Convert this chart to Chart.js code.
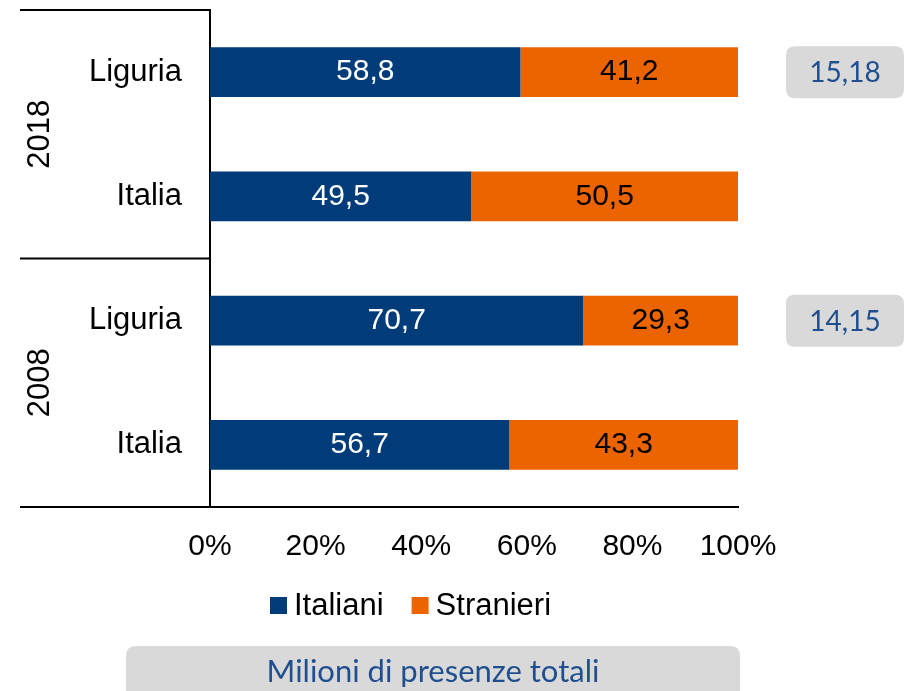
<!DOCTYPE html>
<html>
<head>
<meta charset="utf-8">
<script src="https://cdn.jsdelivr.net/npm/chart.js@4.4.1/dist/chart.umd.min.js"></script>
<style>
  html, body { margin: 0; padding: 0; background: #fff; }
  #wrap { width: 905px; height: 691px; position: relative; }
</style>
</head>
<body>
<div id="wrap"><canvas id="myChart" width="905" height="691"></canvas></div>
<script>
// dati
const categorie = ['Liguria', 'Italia', 'Liguria', 'Italia'];
const anni = ['2018', '2008'];
const italiani = [58.8, 49.5, 70.7, 56.7];
const stranieri = [41.2, 50.5, 29.3, 43.3];
const presenzeTotali = ['15,18', null, '14,15', null];
const tickPercentuali = [0, 20, 40, 60, 80, 100];
const titoloBox = 'Milioni di presenze totali';

const BLU = '#003b7a';
const ARANCIO = '#eb6400';
const TESTO_BLU = '#1f4f8f';
const GRIGIO = '#d9d9d9';
const FONT = '"Liberation Sans", Arial, sans-serif';
const FONT_BOX = 'Lato, "DejaVu Sans", sans-serif';

function roundRect(c, x, y, w, h, r) {
  c.beginPath();
  c.moveTo(x + r, y);
  c.lineTo(x + w - r, y);
  c.quadraticCurveTo(x + w, y, x + w, y + r);
  c.lineTo(x + w, y + h - r);
  c.quadraticCurveTo(x + w, y + h, x + w - r, y + h);
  c.lineTo(x + r, y + h);
  c.quadraticCurveTo(x, y + h, x, y + h - r);
  c.lineTo(x, y + r);
  c.quadraticCurveTo(x, y, x + r, y);
  c.closePath();
}

const extra = {
  id: 'extra',
  afterDatasetsDraw(chart) {
    const c = chart.ctx;
    const area = chart.chartArea;
    const ys = chart.scales.y;

    // etichette valori dentro le barre
    chart.data.datasets.forEach((ds, di) => {
      const meta = chart.getDatasetMeta(di);
      meta.data.forEach((bar, i) => {
        const cx = (bar.x + bar.base) / 2;
        c.save();
        c.font = '30px ' + FONT;
        c.fillStyle = di === 0 ? '#ffffff' : '#000000';
        c.textAlign = 'center';
        c.textBaseline = 'middle';
        c.fillText(String(ds.data[i]).replace('.', ','), cx, bar.y);
        c.restore();
      });
    });

    // linee separatrici e anni
    const sep = [area.top,
      (ys.getPixelForValue(1) + ys.getPixelForValue(2)) / 2,
      area.bottom];
    c.save();
    c.strokeStyle = '#000';
    c.lineWidth = 2;
    sep.forEach(y => {
      c.beginPath();
      c.moveTo(20, y);
      c.lineTo(area.left, y);
      c.stroke();
    });
    c.font = '31px ' + FONT;
    c.fillStyle = '#000';
    c.textAlign = 'center';
    c.textBaseline = 'middle';
    anni.forEach((a, k) => {
      c.save();
      c.translate(40, (sep[k] + sep[k + 1]) / 2);
      c.rotate(-Math.PI / 2);
      c.fillText(a, 0, 0);
      c.restore();
    });
    c.restore();

    // box presenze totali
    presenzeTotali.forEach((v, i) => {
      if (!v) return;
      const y = ys.getPixelForValue(i);
      c.save();
      c.fillStyle = GRIGIO;
      roundRect(c, 786, y - 26, 118, 52, 9);
      c.fill();
      c.font = '28px ' + FONT_BOX;
      c.fillStyle = TESTO_BLU;
      c.textAlign = 'center';
      c.textBaseline = 'middle';
      c.fillText(v, 845, y + 1);
      c.restore();
    });

    // legenda
    c.save();
    c.font = '31px ' + FONT;
    c.textBaseline = 'middle';
    let lx = 270;
    const ly = 605;
    chart.data.datasets.forEach(ds => {
      c.fillStyle = ds.backgroundColor;
      c.fillRect(lx, ly - 8, 17, 17);
      c.fillStyle = '#000';
      c.fillText(ds.label, lx + 24, ly + 1);
      lx += 24 + c.measureText(ds.label).width + 28;
    });
    c.restore();

    // box titolo in basso
    c.save();
    c.fillStyle = GRIGIO;
    roundRect(c, 126, 646, 614, 60, 10);
    c.fill();
    c.font = '31px ' + FONT_BOX;
    c.fillStyle = TESTO_BLU;
    c.textAlign = 'center';
    c.textBaseline = 'middle';
    c.fillText(titoloBox, 433, 672);
    c.restore();
  }
};

const ctx = document.getElementById('myChart');

new Chart(ctx, {
  type: 'bar',
  data: {
    labels: categorie,
    datasets: [
      { label: 'Italiani', data: italiani, backgroundColor: BLU,
        categoryPercentage: 1, barPercentage: 0.4 },
      { label: 'Stranieri', data: stranieri, backgroundColor: ARANCIO,
        categoryPercentage: 1, barPercentage: 0.4 }
    ]
  },
  options: {
    indexAxis: 'y',
    responsive: false,
    animation: false,
    layout: { padding: { top: 10, left: 20, right: 167, bottom: 124 } },
    plugins: {
      legend: { display: false },
      tooltip: { enabled: false }
    },
    scales: {
      x: {
        stacked: true,
        min: 0,
        max: 100,
        afterBuildTicks: s => { s.ticks = tickPercentuali.map(v => ({ value: v })); },
        afterFit: s => { s.height = 60; s.paddingLeft = 0; s.paddingRight = 0; },
        grid: { display: false, drawTicks: false },
        border: { display: true, color: '#000', width: 2 },
        ticks: {
          padding: 22,
          maxRotation: 0,
          color: '#000',
          font: { family: FONT, size: 30 },
          callback: v => v + '%'
        }
      },
      y: {
        stacked: true,
        afterFit: s => { s.width = 190; s.paddingTop = 0; s.paddingBottom = 0; },
        grid: { display: false, drawTicks: false },
        border: { display: true, color: '#000', width: 2 },
        ticks: {
          padding: 28,
          color: '#000',
          font: { family: FONT, size: 31 }
        }
      }
    }
  },
  plugins: [extra]
});
</script>
</body>
</html>
